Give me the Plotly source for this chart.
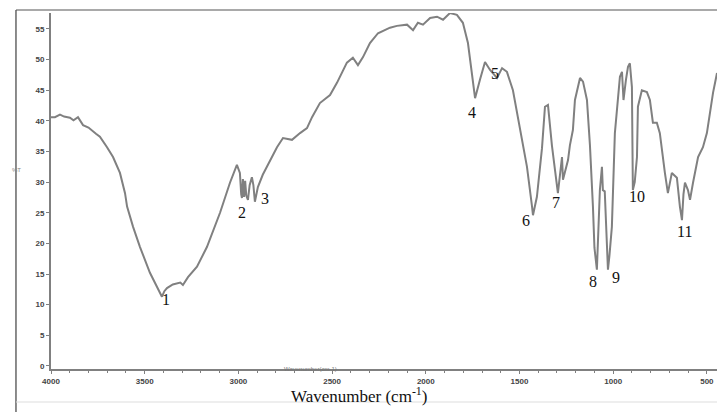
import plotly.graph_objects as go

wavenumber = [4000, 3979, 3952, 3930, 3899, 3880, 3856, 3840, 3829, 3800, 3776, 3760, 3739, 3720, 3701,
              3669, 3650, 3632, 3605, 3594, 3562, 3525, 3472, 3440, 3408, 3395, 3381, 3350, 3328, 3310, 3296,
              3280, 3269, 3221, 3168, 3098, 3045, 3008, 2992, 2985, 2981, 2976, 2970, 2964, 2958, 2949, 2940,
              2928, 2920, 2912, 2896, 2870, 2848, 2820, 2794, 2762, 2714, 2671, 2634, 2607, 2565, 2511, 2474,
              2421, 2389, 2362, 2335, 2298, 2255, 2191, 2154, 2100, 2068, 2042, 2015, 1977, 1940, 1908, 1871,
              1834, 1802, 1775, 1764, 1750,
              1737, 1711, 1684, 1657, 1620, 1593, 1567, 1535, 1508, 1487, 1460, 1433, 1428, 1407, 1380, 1364,
              1348, 1327, 1300, 1295, 1273, 1268, 1241, 1231, 1215, 1204, 1177, 1161, 1140, 1124, 1108, 1100,
              1087, 1080, 1071, 1060, 1055, 1045, 1033, 1028, 1020, 1007, 991, 975, 964, 953, 945, 932,
              921, 911, 900, 895, 885, 873, 868, 847, 820, 804, 788, 767, 751, 724, 708, 687,
              660, 644, 633, 625, 617, 601, 590, 574, 547, 521, 500, 467, 446]
transmittance = [40.6, 40.6, 41.0, 40.7, 40.5, 40.1, 40.6, 39.8, 39.3, 38.9, 38.2, 37.9, 37.4, 36.6, 35.7,
                 34.1, 32.9, 31.5, 28.2, 26.0, 22.7, 19.4, 15.2, 13.2, 11.3, 12.2, 12.7, 13.3, 13.5, 13.6, 13.2,
                 13.9, 14.5, 16.2, 19.4, 25.0, 29.9, 32.8, 31.5, 28.0, 27.4, 30.5, 27.6, 30.2, 27.8, 27.1, 29.5,
                 30.8, 29.5, 26.8, 29.2, 31.2, 32.5, 34.2, 35.7, 37.2, 36.9, 38.0, 38.8, 40.6, 42.9, 44.2, 46.2,
                 49.5, 50.3, 49.1, 50.4, 52.7, 54.3, 55.2, 55.5, 55.7, 54.8, 56.0, 55.7, 56.8, 57.0, 56.5, 57.6,
                 57.3, 56.0, 52.7, 49.9, 46.0,
                 43.7, 46.7, 49.6, 48.3, 47.0, 48.6, 48.0, 45.0, 40.6, 36.9, 32.5, 26.0, 24.6, 27.6, 35.5, 42.3,
                 42.6, 36.0, 29.9, 28.2, 34.1, 30.4, 33.6, 36.0, 38.5, 43.4, 47.0, 46.4, 43.4, 36.0, 26.0, 19.3,
                 15.7, 22.0, 28.7, 32.5, 28.7, 28.5, 21.0, 15.7, 18.0, 22.7, 38.0, 43.9, 47.2, 48.0, 43.4, 46.7,
                 48.8, 49.4, 45.5, 28.7, 30.0, 34.1, 42.3, 45.0, 44.7, 43.4, 39.7, 39.7, 38.0, 31.5, 28.2, 31.5,
                 30.7, 26.0, 23.8, 28.0, 29.9, 28.7, 27.1, 29.9, 34.1, 35.7, 38.0, 44.6, 47.8]

peak_labels = ["1", "2", "3", "4", "5", "6", "7", "8", "9", "10", "11"]
peak_label_x = [3386, 2981, 2858, 1754, 1631, 1465, 1305, 1108, 985, 873, 617]
peak_label_y = [10.8, 25.1, 27.3, 41.3, 47.8, 23.8, 26.6, 13.7, 14.5, 27.7, 21.9]

x_tick_vals = [4000, 3500, 3000, 2500, 2000, 1500, 1000, 500]
y_tick_vals = [0, 5, 10, 15, 20, 25, 30, 35, 40, 45, 50, 55]

fig = go.Figure()
fig.add_trace(go.Scatter(x=wavenumber, y=transmittance, mode="lines",
                         line=dict(color="#808080", width=2), hoverinfo="skip"))

annotations = []
for t, xv, yv in zip(peak_labels, peak_label_x, peak_label_y):
    annotations.append(dict(x=xv, y=yv, xref="x", yref="y", text=t, showarrow=False,
                            font=dict(family="Liberation Serif", size=16, color="#111111")))
annotations.append(dict(x=0.4625, y=-0.073, xref="paper", yref="paper",
                        text="Wavenumber (cm<sup>-1</sup>)", showarrow=False,
                        xanchor="center", yanchor="middle",
                        font=dict(family="Liberation Serif", size=17, color="#111111")))
annotations.append(dict(x=-0.062, y=0.56, xref="paper", yref="paper", text="%T",
                        showarrow=False, font=dict(family="Liberation Sans", size=6, color="#888888")))
annotations.append(dict(x=0.39, y=0.0, xref="paper", yref="paper", text="Wavenumber(cm-1)",
                        showarrow=False, yanchor="middle",
                        font=dict(family="Liberation Sans", size=6, color="#777777")))

shapes = [
    dict(type="line", xref="paper", yref="paper", x0=-0.0526, x1=-0.0526, y0=1.0084, y1=-0.2,
         line=dict(color="#666666", width=1.5)),
    dict(type="line", xref="paper", yref="paper", x0=-0.0526, x1=1.0, y0=1.0084, y1=1.0084,
         line=dict(color="#555555", width=1.2)),
    dict(type="line", xref="paper", yref="paper", x0=-0.0526, x1=1.0, y0=-0.0927, y1=-0.0927,
         line=dict(color="#dddddd", width=1.2)),
]

fig.update_layout(
    width=717, height=412,
    margin=dict(l=51, r=0, t=13, b=43, autoexpand=False),
    paper_bgcolor="white", plot_bgcolor="white",
    showlegend=False,
    annotations=annotations,
    shapes=shapes,
    xaxis=dict(range=[4000, 446], tickvals=x_tick_vals, ticktext=[str(v) for v in x_tick_vals],
               automargin=False,
               showgrid=False, zeroline=False, showline=True, linecolor="#808080", linewidth=2,
               ticks="outside", ticklen=3, tickcolor="#808080", tickwidth=1,
               minor=dict(dtick=100, tick0=0, ticks="outside", ticklen=2, tickcolor="#808080"),
               tickfont=dict(family="Liberation Sans", size=8, color="#444444", weight="bold")),
    yaxis=dict(range=[-0.5, 57.6], tickvals=y_tick_vals, automargin=False,
               showgrid=False, zeroline=False, showline=True, linecolor="#808080", linewidth=2,
               ticks="outside", ticklen=3, tickcolor="#808080", tickwidth=1,
               tickfont=dict(family="Liberation Sans", size=8, color="#444444", weight="bold")),
)

fig.write_html("out.html", config={"displayModeBar": False},
               post_script="document.body.style.margin='0';document.body.style.overflow='hidden';")
